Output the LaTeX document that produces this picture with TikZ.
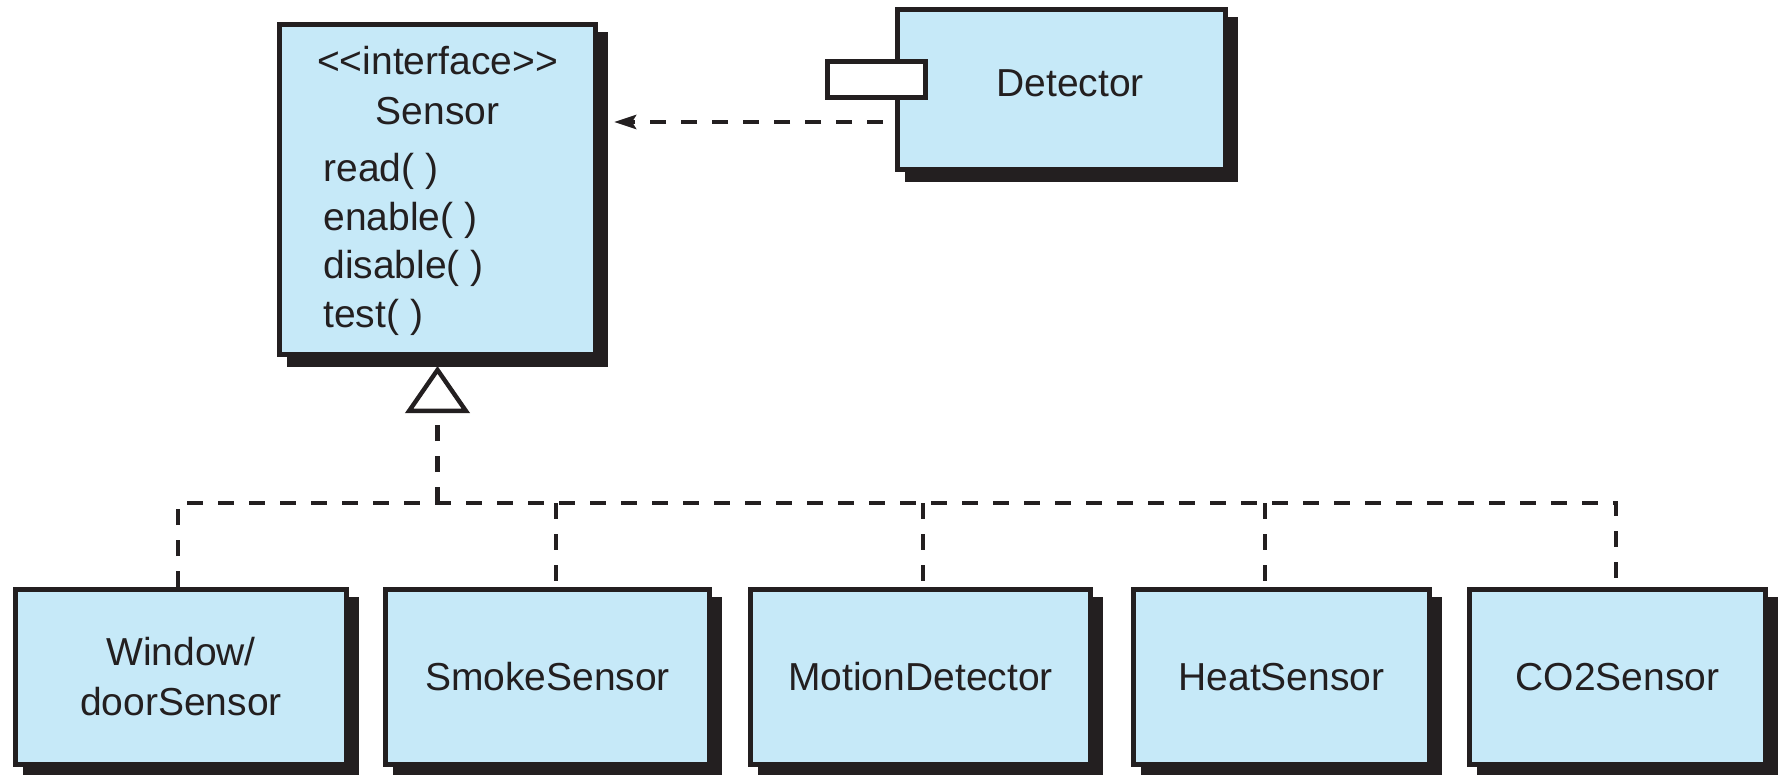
\documentclass[tikz,border=0pt]{standalone}
\usepackage{fontspec}
\setmainfont{Liberation Sans}
\usetikzlibrary{arrows.meta,shadows,calc}
\definecolor{boxfill}{RGB}{198,233,248}
\definecolor{ink}{RGB}{35,31,32}
\begin{document}
\begin{tikzpicture}[x=0.5pt,y=-0.5pt,
  txt/.style={font=\fontsize{19.5}{25}\selectfont, text=ink, inner sep=0pt},
  umlbox/.style={draw=ink, line width=2.5pt, fill=boxfill, inner sep=0pt,
    general shadow={fill=ink, draw=ink, shadow xshift=5pt, shadow yshift=-5pt}},
  portbox/.style={draw=ink, line width=2.2pt, fill=white, minimum width=49pt, minimum height=18pt, inner sep=0pt},
  dep/.style={draw=ink, line width=2.4pt, dash pattern=on 8pt off 7.5pt},
]
\useasboundingbox (0,0) rectangle (1780,775);

% classes
\node[umlbox, minimum width=158pt, minimum height=165pt] (Sensor) at (437.5,189.5) {};
\node[umlbox, minimum width=164pt, minimum height=80pt] (Detector) at (1061.5,89.5) {};
\node[portbox] (port) at (876.5,79.5) {};

\node[umlbox, txt, align=center, minimum width=165.5pt, minimum height=87.5pt] (W) at (181,677) {Window/\\doorSensor};
\node[umlbox, txt, align=center, minimum width=162pt, minimum height=87.5pt] (S) at (547.5,677) {SmokeSensor};
\node[umlbox, txt, align=center, minimum width=170pt, minimum height=87.5pt] (M) at (920.5,677) {MotionDetector};
\node[umlbox, txt, align=center, minimum width=148pt, minimum height=87.5pt] (H) at (1281.5,677) {HeatSensor};
\node[umlbox, txt, align=center, minimum width=148pt, minimum height=87.5pt] (C) at (1617.5,677) {CO2Sensor};

% texts
\node[txt, anchor=base] (hdr1) at (437.5,75) {\mbox{<}\mbox{<}interface\mbox{>}\mbox{>}};
\node[txt, anchor=base] (hdr2) at (437.5,125) {Sensor};
\node[txt, anchor=base west] (m1) at (323,182) {read( )};
\node[txt, anchor=base west] (m2) at (323,230) {enable( )};
\node[txt, anchor=base west] (m3) at (323,278) {disable( )};
\node[txt, anchor=base west] (m4) at (323,327) {test( )};
\node[txt, anchor=base] (dtxt) at (1070,97) {Detector};

% dependency arrow
\coordinate (ay) at (0,122);
\coordinate (atip) at ($(Sensor.east |- ay)+(8pt,0)$);
\draw[dep, -{Stealth[length=11pt, width=7pt, inset=2pt]}, shorten <=6pt] (Detector.west |- ay) -- (atip);

% realization
\coordinate (hub) at (437.5,503);
\coordinate (gtip) at ($(Sensor.south)+(0,-4.5pt)$);
\draw[dep, -{Triangle[length=23.5pt, width=32pt, fill=white, line width=2.2pt]}] (hub) -- (gtip);

\coordinate (bW) at (178,503);
\coordinate (bS) at (556,503);
\coordinate (bM) at (923,503);
\coordinate (bH) at (1265,503);
\coordinate (bC) at (1616,503);
\draw[dep] (bW |- W.north) -- (bW) -- (bC) -- (bC |- C.north);
\draw[dep] (bS) -- (bS |- S.north);
\draw[dep] (bM) -- (bM |- M.north);
\draw[dep] (bH) -- (bH |- H.north);
\end{tikzpicture}
\end{document}
